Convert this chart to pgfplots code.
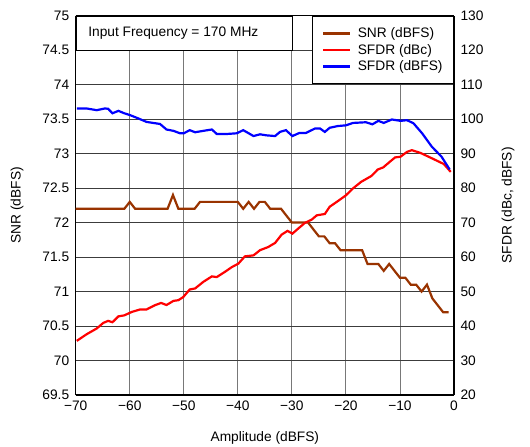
\documentclass[border=0pt]{standalone}
\usepackage{fontspec}
\setmainfont{Liberation Sans}
\usepackage{pgfplots}
\pgfplotsset{compat=1.18}

\definecolor{snrbrown}{RGB}{153,51,0}
\definecolor{gridv}{RGB}{120,120,120}
\definecolor{gridh}{RGB}{60,60,60}

\pgfplotsset{
  common/.style={
    scale only axis,
    width=378.3bp, height=379.3bp,
    xmin=-70, xmax=0,
    axis line style={line width=1.6pt},
    major tick length=0pt,
    /pgf/number format/assume math mode=true,
    tick label style={font=\fontsize{13.8}{16}\selectfont},
    label style={font=\fontsize{13.8}{16}\selectfont},
  },
}

\begin{document}
\begin{tikzpicture}
\begin{axis}[common,
    ymin=69.5, ymax=75,
    ytick={69.5,70,...,75},
    xtick={-70,-60,...,0},
    xticklabels={−70,−60,−50,−40,−30,−20,−10,0},
    axis y line*=left,
    axis x line*=box,
    grid=major,
    x grid style={gridv, line width=0.9pt},
    y grid style={gridh, line width=0.9pt},
    yticklabel style={xshift=-3bp},
    xticklabel style={yshift=-2bp},
    xlabel={Amplitude (dBFS)},
    ylabel={SNR (dBFS)},
    xlabel style={at={(axis description cs:0.5,-0.113)}, anchor=center},
    ylabel style={at={(axis description cs:-0.155,0.5)}, anchor=center},
  ]
  \addplot[snrbrown, line width=2.2pt] coordinates {
    (-70,72.2)(-69,72.2)(-68,72.2)(-67,72.2)(-66,72.2)(-65,72.2)(-64,72.2)(-63,72.2)(-62,72.2)(-61,72.2)
    (-60,72.3)(-59,72.2)(-58,72.2)(-57,72.2)(-56,72.2)(-55,72.2)(-54,72.2)(-53,72.2)
    (-52,72.4)(-51,72.2)(-50,72.2)(-49,72.2)(-48,72.2)
    (-47,72.3)(-46,72.3)(-45,72.3)(-44,72.3)(-43,72.3)(-42,72.3)(-41,72.3)(-40,72.3)
    (-39,72.2)(-38,72.3)(-37,72.2)(-36,72.3)(-35,72.3)(-34,72.2)(-33,72.2)(-32,72.2)
    (-31,72.1)(-30,72.0)(-29,72.0)(-28,72.0)(-27,72.0)(-26,71.9)(-25,71.8)(-24,71.8)
    (-23,71.7)(-22,71.7)(-21,71.6)(-20,71.6)(-19,71.6)(-18,71.6)(-17,71.6)
    (-16,71.4)(-15,71.4)(-14,71.4)(-13,71.3)(-12,71.4)(-11,71.3)(-10,71.2)(-9,71.2)
    (-8,71.1)(-7,71.1)(-6,71.0)(-5,71.1)(-4,70.9)(-3,70.8)(-2,70.7)(-1,70.7)
  };
  \node[fill=white, draw=black, line width=0.8pt, anchor=north west,
        minimum width=216.2bp, minimum height=34.5bp, inner sep=0pt]
        at (axis cs:-70,75) {};
  \node[anchor=west, inner sep=0pt, font=\fontsize{13.8}{16}\selectfont]
        at (axis cs:-67.7,74.75) {Input Frequency = 170 MHz};
  \coordinate (bl) at (rel axis cs:0,0);
  \coordinate (tr) at (rel axis cs:1,1);
\end{axis}

\begin{axis}[common,
    ymin=20, ymax=130,
    ytick={20,30,...,130},
    axis y line*=right,
    axis x line=none,
    yticklabel style={xshift=3bp},
    ylabel={SFDR (dBc, dBFS)},
    ylabel style={at={(axis description cs:1.143,0.5)}, anchor=center, rotate=0},
    legend cell align=left,
    legend style={at={(rel axis cs:1,1)}, anchor=north east,
      draw=black, line width=0.9pt, fill=white,
      font=\fontsize{13.8}{16}\selectfont,
      inner xsep=9bp, inner ysep=9.5bp, row sep=1.2bp},
    legend image code/.code={%
      \draw[#1, line width=2.6pt] (0bp,0bp) -- (27.4bp,0bp);},
  ]
  \addlegendimage{snrbrown}
  \addlegendentry{\hspace{4bp}SNR (dBFS)}
  \addplot[red, line width=2.2pt] coordinates {
    (-69.8,35.7)(-68,37.6)(-66.1,39.3)(-64.9,40.9)(-64,41.5)(-63.2,41.1)(-62.1,42.8)(-61,43.1)
    (-59.6,44.1)(-58.1,44.8)(-56.9,44.8)(-55.4,46.0)(-54.2,46.7)(-53.2,46.1)(-51.9,47.3)(-51,47.5)
    (-50.1,48.4)(-48.9,50.6)(-47.9,50.9)(-46.4,52.8)(-44.8,54.4)(-43.9,54.2)(-42.4,55.7)(-41.1,57.1)
    (-39.9,58.1)(-38.7,60.2)(-37.1,60.5)(-35.9,62.0)(-34.4,62.9)(-33.1,64.1)(-31.9,66.5)(-30.8,67.6)
    (-29.9,66.8)(-28.8,68.3)(-27.6,69.9)(-26.3,70.9)(-25.4,72.1)(-23.9,72.5)(-23,74.6)(-21.7,76.0)
    (-20,77.9)(-18.7,79.9)(-17.2,81.8)(-15.3,83.5)(-14.1,85.4)(-13.1,86.0)(-11.9,87.6)(-10.9,88.9)
    (-9.9,89.1)(-8.7,90.5)(-7.8,91.0)(-6.2,90.2)(-4.7,89.1)(-3.1,87.9)(-1.9,87.0)(-0.6,84.7)
  };
  \addlegendentry{\hspace{4bp}SFDR (dBc)}
  \addplot[blue, line width=2.2pt] coordinates {
    (-69.8,103.1)(-68,103.1)(-66.1,102.6)(-64.6,103.1)(-64,103.0)(-63.2,101.7)(-62.1,102.4)(-61,101.7)
    (-60,101.2)(-58.4,100.2)(-56.9,99.2)(-54.4,98.6)(-53.2,97.0)(-51.9,96.6)(-50.7,95.9)(-50,95.9)
    (-48.9,96.8)(-47.9,96.2)(-46.4,96.6)(-44.8,97.0)(-43.9,95.7)(-42,95.7)(-40.2,95.9)(-39,96.8)
    (-37.1,95.1)(-35.9,95.6)(-34.7,95.3)(-33.1,95.1)(-32.2,96.3)(-31.1,96.8)(-29.9,95.1)(-28.6,96.0)
    (-27.4,96.0)(-25.7,97.3)(-24.8,97.3)(-23.9,96.3)(-23,97.5)(-21.5,98.0)(-20,98.2)(-18.7,98.9)
    (-16.3,99.1)(-15.1,98.5)(-14,99.5)(-13,98.9)(-11.5,99.9)(-9.9,99.5)(-8.7,99.7)(-7.5,98.8)
    (-5.9,95.9)(-4.1,92.0)(-2.3,89.1)(-0.8,85.4)
  };
  \addlegendentry{\hspace{4bp}SFDR (dBFS)}
  \node[font=\fontsize{7}{8}\selectfont] at (rel axis cs:1.161,-0.071) {G015};
\end{axis}
\pgfresetboundingbox
\path ([shift={(-75.7bp,-52bp)}]bl) rectangle ([shift={(76bp,15.7bp)}]tr);
\end{tikzpicture}
\end{document}
